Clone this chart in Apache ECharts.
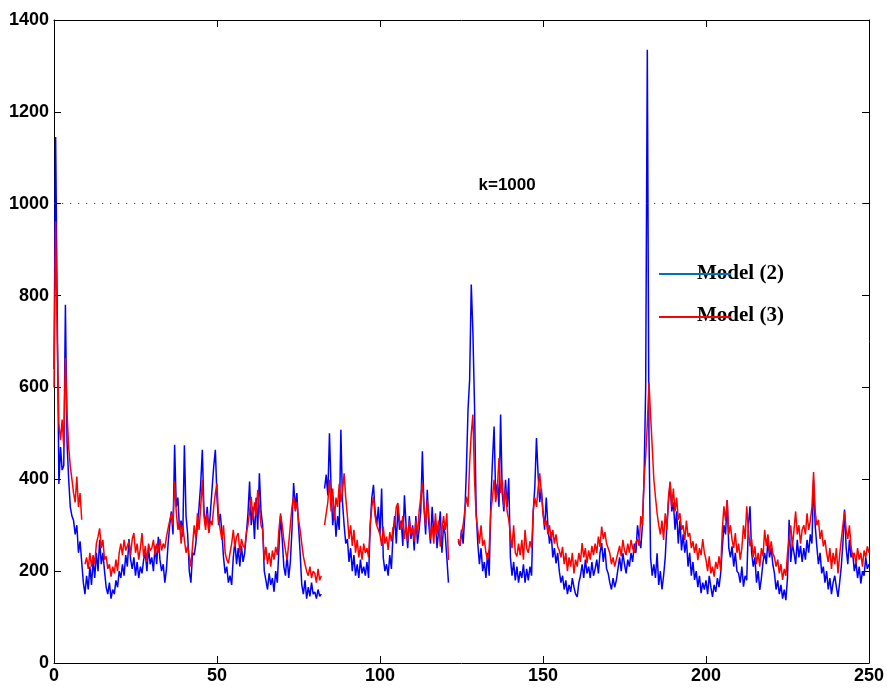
<!DOCTYPE html>
<html>
<head>
<meta charset="utf-8">
<script src="https://cdn.jsdelivr.net/npm/echarts@6/dist/echarts.min.js"></script>
<style>
html,body{margin:0;padding:0;background:#fff;}
#chart{width:887px;height:688px;}
</style>
</head>
<body>
<div id="chart"></div>
<script>
// sample spacing along the x axis (time units)
const xStep = 0.5;
const xTicks = [0, 50, 100, 150, 200, 250];
const yTicks = [0, 200, 400, 600, 800, 1000, 1200, 1400];
const thresholdK = 1000;
const thresholdLabel = 'k=1000';
const seriesNames = ['Model (2)', 'Model (3)'];

// Model (2) – blue trace, one row = 10 time units (20 samples)
const model2 = [
  640,1145,760,390,470,420,430,780,480,400,340,320,310,280,300,240,265,220,175,150,
  190,160,210,170,225,185,240,200,268,215,240,200,165,150,175,140,160,150,180,165,
  200,185,215,190,235,210,270,225,205,230,190,220,185,210,195,225,240,200,250,215,
  230,200,255,215,275,225,200,215,175,205,260,300,330,280,475,340,360,290,310,275,
  474,320,280,200,175,240,235,260,300,340,390,464,330,300,340,285,330,380,428,464,
  360,300,325,285,230,195,210,175,190,170,230,265,215,250,210,255,220,240,280,325,
  395,300,340,270,360,290,413,330,300,200,180,160,195,170,185,155,200,175,250,320,
  270,210,190,235,185,220,290,392,340,370,300,240,170,150,180,140,165,145,175,150,
  155,140,160,145,150,null,380,410,365,500,380,300,340,275,320,290,508,350,300,260,
  270,220,250,200,235,190,215,185,225,195,210,190,220,185,300,360,388,330,300,340,
  280,380,230,200,215,190,235,205,280,320,260,340,290,310,255,365,300,250,320,270,
  300,245,320,260,290,330,461,340,280,377,300,260,340,280,310,250,290,330,240,300,
  280,230,175,null,null,null,null,null,265,255,290,260,320,420,551,617,824,720,560,330,
  260,215,250,200,220,185,240,190,350,440,515,360,390,340,541,370,330,399,340,402,
  230,190,220,180,210,175,200,185,215,175,205,180,210,190,330,384,490,410,350,380,
  330,290,360,300,260,285,230,250,217,240,200,175,190,160,180,150,170,155,185,165,
  150,144,175,190,215,185,225,195,210,185,220,190,205,225,195,240,261,220,250,205,
  195,175,160,185,165,180,205,230,200,239,215,195,225,210,240,220,260,240,300,270,
  250,300,400,600,1335,500,230,190,215,185,239,170,200,160,190,230,300,350,392,330,
  350,290,330,260,310,245,280,240,268,210,240,190,220,181,200,165,190,152,175,160,
  180,150,190,165,144,170,155,185,165,195,250,300,280,355,250,230,254,210,240,200,
  195,175,210,166,190,180,300,341,240,210,230,175,200,159,185,220,240,215,268,230,
  250,215,195,160,180,150,170,140,160,137,185,312,220,260,240,215,268,230,255,220,
  250,225,268,240,280,260,399,300,254,215,240,195,210,175,200,160,185,150,175,190,
  165,144,175,210,260,334,250,215,268,230,240,200,220,185,210,173,200,190,230,205,215
];

// Model (3) – red trace, same sampling
const model3 = [
  600,962,700,520,485,530,470,664,545,470,428,400,370,350,406,340,370,312,null,215,
  230,205,240,210,235,215,260,275,293,250,268,225,232,205,215,188,210,195,225,200,
  240,260,235,268,245,255,265,235,270,283,240,260,225,250,283,230,255,220,260,245,
  250,268,235,260,240,270,245,260,250,275,293,310,326,300,395,330,290,310,260,300,
  268,240,255,232,210,255,300,270,326,290,340,399,320,290,326,283,310,300,340,370,
  391,312,290,268,300,240,225,217,240,260,290,253,275,283,240,270,255,250,283,300,
  330,362,312,350,320,377,340,300,290,224,253,215,240,210,245,225,253,235,290,326,
  300,268,245,224,260,300,340,362,330,350,312,290,260,232,215,200,190,210,185,200,
  195,175,205,180,190,null,300,326,350,399,330,380,312,360,340,390,350,375,413,360,
  320,270,300,255,290,240,268,230,255,225,260,240,250,230,300,340,362,320,300,290,
  280,255,297,260,275,246,285,265,295,300,340,348,310,290,320,270,300,265,310,280,
  295,265,310,280,330,360,392,340,300,355,320,270,300,260,326,280,310,253,290,320,
  290,326,224,null,null,null,null,null,270,255,282,300,330,362,340,435,500,541,400,320,
  290,260,300,255,268,240,224,250,330,360,399,350,380,446,370,399,340,380,330,312,
  280,250,300,240,232,260,235,268,225,290,250,240,265,250,330,360,340,380,413,370,
  326,300,310,280,300,270,290,260,280,253,245,230,253,215,240,200,230,210,240,195,
  225,210,240,220,261,230,250,217,245,225,255,235,260,240,275,253,297,270,285,260,
  250,239,215,230,210,225,240,255,232,268,245,235,260,240,268,250,240,262,270,255,
  320,300,399,450,520,610,540,472,400,362,326,300,280,310,268,326,290,362,395,340,
  380,330,360,312,326,290,300,268,310,275,283,250,265,240,260,224,250,235,270,240,
  225,200,232,195,210,188,220,205,232,200,290,341,310,355,280,300,268,250,283,240,
  260,225,250,300,270,341,290,254,270,230,254,215,240,210,250,232,290,255,280,240,
  265,239,230,210,225,195,215,181,205,190,239,270,300,254,290,330,280,300,260,290,
  300,280,326,290,310,340,416,330,300,312,270,290,254,268,240,220,250,205,240,215,
  250,195,235,268,300,330,290,270,300,254,230,240,215,250,225,240,210,245,230,254,240
];

function pairs(arr) {
  return arr.map((v, i) => [i * xStep, v]);
}

const axisFont = { color: '#000', fontSize: 18, fontWeight: 'bold', fontFamily: 'Liberation Sans, Arial, sans-serif',
  formatter: function (v) { return String(v); } };
const lineBlack = { show: true, onZero: false, lineStyle: { color: '#000', width: 1 } };
const tickIn = { show: true, inside: true, length: 7, lineStyle: { color: '#000', width: 1 } };

const chart = echarts.init(document.getElementById('chart'), null, { renderer: 'canvas' });
chart.setOption({
  animation: false,
  backgroundColor: '#fff',
  grid: { left: 54, right: 17, top: 20, bottom: 25, containLabel: false },
  xAxis: [
    { type: 'value', min: xTicks[0], max: xTicks[xTicks.length - 1], interval: 50, position: 'bottom',
      axisLine: lineBlack, axisTick: tickIn, splitLine: { show: false },
      axisLabel: Object.assign({ margin: 4 }, axisFont) },
    { type: 'value', min: xTicks[0], max: xTicks[xTicks.length - 1], interval: 50, position: 'top',
      axisLine: lineBlack, axisTick: tickIn, splitLine: { show: false }, axisLabel: { show: false } }
  ],
  yAxis: [
    { type: 'value', min: yTicks[0], max: yTicks[yTicks.length - 1], interval: 200, position: 'left',
      axisLine: lineBlack, axisTick: tickIn, splitLine: { show: false },
      axisLabel: Object.assign({ margin: 5 }, axisFont) },
    { type: 'value', min: yTicks[0], max: yTicks[yTicks.length - 1], interval: 200, position: 'right',
      axisLine: lineBlack, axisTick: tickIn, splitLine: { show: false }, axisLabel: { show: false } }
  ],
  series: [
    {
      name: seriesNames[0], type: 'line', data: pairs(model2), showSymbol: false, symbol: 'none',
      connectNulls: false, lineStyle: { color: '#0000ff', width: 1.5 }, itemStyle: { color: '#0000ff' },
      z: 2,
      markLine: {
        silent: true, symbol: 'none',
        lineStyle: { color: '#444', width: 1.2, type: [1.2, 6.8] },
        label: { show: false },
        data: [{ yAxis: thresholdK }]
      },
      markPoint: {
        silent: true, symbol: 'circle', symbolSize: 0,
        label: { show: true, position: 'inside', offset: [0, -18], formatter: thresholdLabel,
          color: '#000', fontSize: 17, fontWeight: 'bold', fontFamily: 'Liberation Sans, Arial, sans-serif' },
        data: [{ coord: [139, thresholdK] }]
      }
    },
    {
      name: seriesNames[1], type: 'line', data: pairs(model3), showSymbol: false, symbol: 'none',
      connectNulls: false, lineStyle: { color: '#ff0000', width: 1.5 }, itemStyle: { color: '#ff0000' },
      z: 3
    }
  ],
  graphic: [
    { type: 'line', shape: { x1: 659, y1: 274, x2: 731, y2: 274 }, style: { stroke: '#0072bd', lineWidth: 2 }, z: 10 },
    { type: 'text', x: 697, y: 274, style: { text: seriesNames[0], font: 'bold 21px "Liberation Serif", "Times New Roman", serif', fill: '#000', textVerticalAlign: 'middle', verticalAlign: 'middle' }, z: 9 },
    { type: 'line', shape: { x1: 659, y1: 317, x2: 731, y2: 317 }, style: { stroke: '#ff0000', lineWidth: 2 }, z: 10 },
    { type: 'text', x: 697, y: 316, style: { text: seriesNames[1], font: 'bold 21px "Liberation Serif", "Times New Roman", serif', fill: '#000', textVerticalAlign: 'middle', verticalAlign: 'middle' }, z: 9 }
  ]
});
</script>
</body>
</html>
